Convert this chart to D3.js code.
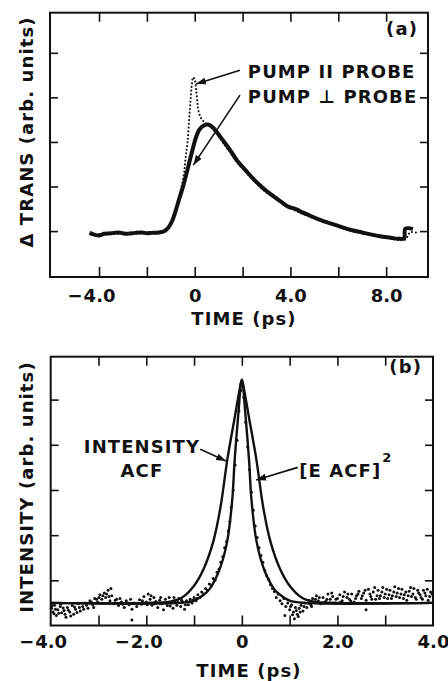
<!DOCTYPE html>
<html>
<head>
<meta charset="utf-8">
<script src="https://cdn.jsdelivr.net/npm/d3@7"></script>
<style>
  body { margin: 0; background: #fff; }
  svg { display: block; }
  text { font-family: "DejaVu Sans", sans-serif; font-weight: bold; font-size: 18px; fill: #111; }
  text.lbl { letter-spacing: 1.1px; }
</style>
</head>
<body>
<div id="chart"></div>
<script>
// ---- panel (a): pump-probe transmission vs time (ps) ----
const aTickMarks = [-4, -2, 0, 2, 4, 6, 8]
const aTickLabels = [-4, 0, 4, 8]
const aYTicks = [0, 1, 2, 3, 4]

// pump perpendicular to probe (thick solid trace)
const perpProbe = [
  [-4.4, -0.04], [-4.2, -0.08], [-4.0, -0.1], [-3.8, -0.06], [-3.5, -0.05], [-3.2, -0.03],
  [-3.0, -0.05], [-2.8, -0.06], [-2.5, -0.04], [-2.2, -0.03], [-2.0, -0.05], [-1.8, -0.04],
  [-1.5, -0.03], [-1.3, -0.01], [-1.1, 0.08], [-0.95, 0.22], [-0.8, 0.45], [-0.65, 0.72],
  [-0.5, 0.98], [-0.35, 1.28], [-0.2, 1.6], [-0.08, 1.85], [0.05, 2.1], [0.2, 2.28],
  [0.38, 2.37], [0.56, 2.39], [0.75, 2.33], [0.95, 2.2], [1.2, 2.02], [1.5, 1.8],
  [1.8, 1.56], [2.1, 1.38], [2.4, 1.2], [2.7, 1.04], [3.0, 0.9], [3.3, 0.78], [3.6, 0.66],
  [3.9, 0.55], [4.2, 0.5], [4.5, 0.42], [4.8, 0.35], [5.1, 0.28], [5.4, 0.22], [5.8, 0.15],
  [6.2, 0.08], [6.5, 0.03], [7.0, -0.03], [7.4, -0.08], [7.8, -0.12], [8.2, -0.15],
  [8.5, -0.17], [8.75, -0.16], [8.8, 0.05], [9.12, 0.05]
]

// pump parallel to probe (dotted trace)
const paraProbe = [
  [-4.3, -0.06], [-3.6, -0.07], [-3.0, -0.06], [-2.4, -0.05], [-1.8, -0.05], [-1.3, -0.02],
  [-1.0, 0.15], [-0.85, 0.4], [-0.7, 0.7], [-0.55, 1.0], [-0.45, 1.3], [-0.38, 1.65],
  [-0.3, 2.0], [-0.24, 2.45], [-0.18, 2.9], [-0.12, 3.3], [-0.07, 3.45], [0.0, 3.4],
  [0.05, 3.2], [0.1, 2.95], [0.15, 2.72], [0.25, 2.55], [0.4, 2.44], [0.6, 2.36],
  [0.8, 2.27], [1.0, 2.12], [1.4, 1.82], [1.8, 1.52], [2.2, 1.28], [2.6, 1.06], [3.0, 0.86],
  [3.4, 0.72], [3.8, 0.57], [4.2, 0.46], [4.6, 0.37], [5.0, 0.28], [5.5, 0.19], [6.0, 0.1],
  [6.5, 0.01], [7.0, -0.05], [7.5, -0.1], [8.0, -0.15], [8.5, -0.2], [8.8, -0.19],
  [9.0, -0.03], [9.25, -0.03]
]

// ---- panel (b): autocorrelation traces ----
const bTickMarks = [-3, -2, -1, 0, 1, 2, 3]
const bTickLabels = [-4, -2, 0, 2, 4]
const bYTicks = [1, 2, 3, 4, 5]

const intensityACF = [
  [-4.0, 0.5], [-2.0, 0.5], [-1.5, 0.53], [-1.25, 0.62], [-1.0, 0.88], [-0.8, 1.25],
  [-0.6, 1.85], [-0.45, 2.6], [-0.3, 3.7], [-0.15, 4.6], [-0.05, 5.2], [0.0, 5.44],
  [0.05, 5.2], [0.15, 4.6], [0.3, 3.7], [0.45, 2.6], [0.6, 1.85], [0.8, 1.25],
  [1.0, 0.88], [1.25, 0.62], [1.5, 0.53], [2.0, 0.5], [4.0, 0.5]
]

const fieldACFsq = [
  [-4.0, 0.5], [-1.3, 0.5], [-1.0, 0.55], [-0.8, 0.68], [-0.68, 0.8], [-0.5, 1.15], [-0.4, 1.45],
  [-0.3, 1.9], [-0.2, 2.8], [-0.15, 3.67], [-0.08, 4.6], [0.0, 5.44], [0.08, 4.6],
  [0.15, 3.67], [0.2, 2.8], [0.3, 1.9], [0.4, 1.45], [0.5, 1.15], [0.68, 0.8],
  [0.8, 0.68], [1.0, 0.55], [1.3, 0.5], [4.0, 0.5]
]

// measured points (b)
const measuredB = [
  [-3.98, 0.38], [-3.95, 0.30], [-3.92, 0.45], [-3.88, 0.22], [-3.85, 0.35], [-3.8, 0.42],
  [-3.77, 0.28], [-3.72, 0.33], [-3.68, 0.18], [-3.65, 0.40], [-3.6, 0.30], [-3.55, 0.44],
  [-3.52, 0.25], [-3.48, 0.36], [-3.42, 0.48], [-3.38, 0.32], [-3.33, 0.42], [-3.28, 0.50],
  [-3.22, 0.38], [-3.18, 0.55], [-3.12, 0.46], [-3.08, 0.60], [-3.02, 0.52], [-2.97, 0.68],
  [-2.93, 0.58], [-2.88, 0.72], [-2.85, 0.62], [-2.8, 0.78], [-2.76, 0.55], [-2.72, 0.66],
  [-2.68, 0.48], [-2.62, 0.58], [-2.58, 0.44], [-2.52, 0.52], [-2.46, 0.40], [-2.42, 0.55],
  [-2.36, 0.46], [-2.3, 0.36], [-2.3, 0.12], [-2.25, 0.50], [-2.2, 0.42], [-2.14, 0.57],
  [-2.1, 0.47], [-2.05, 0.64], [-2.0, 0.52], [-1.96, 0.70], [-1.92, 0.58], [-1.88, 0.45],
  [-1.84, 0.62], [-1.8, 0.53], [-1.76, 0.40], [-1.72, 0.56], [-1.68, 0.48], [-1.64, 0.35],
  [-1.6, 0.58], [-1.56, 0.44], [-1.52, 0.62], [-1.48, 0.50], [-1.44, 0.38], [-1.4, 0.55],
  [-1.36, 0.45], [-1.32, 0.60], [-1.28, 0.42], [-1.24, 0.52], [-1.2, 0.36], [-1.16, 0.55],
  [-1.12, 0.46], [-1.08, 0.58], [-1.04, 0.50], [-1.0, 0.62], [-0.96, 0.55], [-0.92, 0.68],
  [-0.88, 0.62], [-0.84, 0.74], [-0.8, 0.70], [-0.76, 0.82], [-0.72, 0.78], [-0.68, 0.92],
  [-0.64, 0.88], [-0.6, 1.04], [-0.56, 1.00], [-0.52, 1.18], [-0.48, 1.25], [-0.44, 1.40],
  [-0.4, 1.52], [-0.36, 1.72], [-0.32, 1.86], [-0.28, 2.10], [-0.25, 2.30], [-0.22, 2.62],
  [-0.18, 3.00], [-0.14, 3.55], [-0.1, 4.10], [-0.06, 4.75], [-0.02, 5.20], [0.04, 5.05],
  [0.08, 4.50], [0.12, 3.95], [0.16, 3.45], [0.2, 2.95], [0.24, 2.55], [0.28, 2.20],
  [0.32, 1.95], [0.36, 1.72], [0.4, 1.55], [0.44, 1.40], [0.48, 1.22], [0.52, 1.10],
  [0.56, 1.02], [0.6, 0.90], [0.64, 0.82], [0.68, 0.75], [0.72, 0.62], [0.76, 0.70],
  [0.8, 0.55], [0.84, 0.48], [0.88, 0.60], [0.9, 0.22], [0.92, 0.42], [0.96, 0.50],
  [1.0, 0.35], [1.04, 0.46], [1.08, 0.30], [1.1, 0.15], [1.12, 0.40], [1.16, 0.25],
  [1.2, 0.38], [1.24, 0.45], [1.28, 0.32], [1.32, 0.50], [1.36, 0.40], [1.4, 0.56],
  [1.44, 0.46], [1.48, 0.60], [1.52, 0.52], [1.56, 0.66], [1.6, 0.55], [1.65, 0.48],
  [1.7, 0.62], [1.75, 0.53], [1.8, 0.70], [1.85, 0.58], [1.9, 0.64], [1.95, 0.50],
  [2.0, 0.60], [2.05, 0.68], [2.1, 0.55], [2.15, 0.74], [2.2, 0.62], [2.25, 0.58],
  [2.3, 0.70], [2.35, 0.52], [2.4, 0.66], [2.45, 0.76], [2.5, 0.60], [2.55, 0.72],
  [2.6, 0.56], [2.6, 0.35], [2.65, 0.80], [2.7, 0.64], [2.75, 0.74], [2.8, 0.58],
  [2.85, 0.78], [2.9, 0.66], [2.95, 0.84], [3.0, 0.70], [3.05, 0.60], [3.1, 0.78],
  [3.15, 0.66], [3.2, 0.86], [3.25, 0.72], [3.3, 0.62], [3.35, 0.80], [3.4, 0.68],
  [3.45, 0.56], [3.5, 0.76], [3.55, 0.64], [3.6, 0.82], [3.65, 0.58], [3.7, 0.72],
  [3.75, 0.62], [3.8, 0.78], [3.85, 0.66], [3.9, 0.56], [3.95, 0.74]
]

// second sweep of measured points (b), fills the noisy baseline
const measuredB2 = [
  [-3.97, 0.44], [-3.93, 0.26], [-3.9, 0.36], [-3.83, 0.27], [-3.79, 0.47], [-3.74, 0.39],
  [-3.7, 0.25], [-3.63, 0.34], [-3.58, 0.21], [-3.5, 0.41], [-3.45, 0.29], [-3.4, 0.4],
  [-3.31, 0.36], [-3.25, 0.45], [-3.15, 0.52], [-3.1, 0.4], [-3.04, 0.58], [-2.99, 0.62],
  [-2.91, 0.66], [-2.83, 0.7], [-2.78, 0.64], [-2.74, 0.82], [-2.65, 0.56], [-2.55, 0.6],
  [-2.49, 0.47], [-2.39, 0.5], [-2.33, 0.58], [-2.18, 0.49], [-2.08, 0.55], [-1.98, 0.46],
  [-1.9, 0.66], [-1.82, 0.48], [-1.7, 0.62], [-1.58, 0.5], [-1.5, 0.43], [-1.42, 0.62],
  [-1.34, 0.52], [-1.26, 0.56], [-1.18, 0.46], [-1.1, 0.52], [-1.02, 0.56], [-0.94, 0.6],
  [1.02, 0.42], [1.06, 0.24], [1.14, 0.33], [1.18, 0.2], [1.22, 0.3], [1.3, 0.42],
  [1.38, 0.5], [1.46, 0.42], [1.54, 0.58], [1.62, 0.62], [1.72, 0.5], [1.78, 0.58],
  [1.88, 0.72], [1.97, 0.58], [2.07, 0.52], [2.12, 0.64], [2.22, 0.7], [2.28, 0.54],
  [2.38, 0.6], [2.43, 0.7], [2.52, 0.66], [2.58, 0.78], [2.68, 0.7], [2.72, 0.58],
  [2.78, 0.84], [2.83, 0.66], [2.88, 0.6], [2.93, 0.74], [2.98, 0.62], [3.03, 0.8],
  [3.08, 0.68], [3.13, 0.6], [3.18, 0.74], [3.23, 0.64], [3.28, 0.82], [3.33, 0.7],
  [3.38, 0.6], [3.43, 0.74], [3.48, 0.66], [3.53, 0.84], [3.58, 0.7], [3.63, 0.62],
  [3.68, 0.78], [3.73, 0.68], [3.78, 0.58], [3.83, 0.72], [3.88, 0.8], [3.93, 0.64],
  [3.98, 0.7]
]

const W = 448, H = 681
const ink = '#111'

const svg = d3.select('#chart').append('svg')
  .attr('width', W).attr('height', H)

svg.append('defs').append('marker')
  .attr('id', 'arrow')
  .attr('markerUnits', 'userSpaceOnUse')
  .attr('markerWidth', 11).attr('markerHeight', 8)
  .attr('refX', 10).attr('refY', 3.5)
  .attr('orient', 'auto')
  .append('path').attr('d', 'M0,0L10,3.5L0,7Z').attr('fill', ink)

const fmt = d => d === 0 ? '0' : d3.format('.1f')(Math.abs(d))

// frame, inward ticks on all sides, labels at the bottom
function drawFrame(g, x, y, { marks, labels, yTicks, labelPad }) {
  const [x0, x1] = x.range()
  const [y0, y1] = y.range()

  g.append('g').attr('transform', `translate(0,${y0})`)
    .call(d3.axisBottom(x).tickValues(marks).tickSize(-10).tickFormat(''))
  g.append('g').attr('transform', `translate(0,${y1})`)
    .call(d3.axisTop(x).tickValues(marks).tickSize(-9).tickFormat(''))
  g.append('g').attr('transform', `translate(${x0},0)`)
    .call(d3.axisLeft(y).tickValues(yTicks).tickSize(-8).tickFormat(''))
  g.append('g').attr('transform', `translate(${x1},0)`)
    .call(d3.axisRight(y).tickValues(yTicks).tickSize(-8).tickFormat(''))

  const lab = g.append('g').attr('transform', `translate(0,${y0})`)
    .call(d3.axisBottom(x).tickValues(labels).tickSize(0).tickPadding(labelPad).tickFormat(fmt))

  lab.selectAll('.tick text').each(function (d) {
    if (d < 0) {
      const w = this.getComputedTextLength()
      const t = d3.select(this)
      d3.select(this.parentNode).append('text')
        .attr('y', t.attr('y')).attr('dy', t.attr('dy'))
        .attr('x', -w / 2 - 1)
        .attr('text-anchor', 'end')
        .text('\u2212')
    }
  })

  g.selectAll('.domain').remove()
  g.selectAll('.tick line').attr('stroke', ink).attr('stroke-width', 1.6)

  g.append('rect')
    .attr('x', x0).attr('y', y1)
    .attr('width', x1 - x0).attr('height', y0 - y1)
    .attr('fill', 'none').attr('stroke', ink).attr('stroke-width', 2)
}

function arrow(g, x, y, from, to) {
  g.append('line')
    .attr('x1', x(from[0])).attr('y1', y(from[1]))
    .attr('x2', x(to[0])).attr('y2', y(to[1]))
    .attr('stroke', ink).attr('stroke-width', 1.6)
    .attr('marker-end', 'url(#arrow)')
}

function label(g, px, py, str, anchor = 'start') {
  return g.append('text').attr('class', 'lbl')
    .attr('x', px).attr('y', py).attr('text-anchor', anchor).text(str)
}

// ---------- panel (a) ----------
const xa = d3.scaleLinear().domain([-6.05, 9.75]).range([50, 428])
const ya = d3.scaleLinear().domain([-1.03, 4.9]).range([277, 12.7])
const ga = svg.append('g')

drawFrame(ga, xa, ya, { marks: aTickMarks, labels: aTickLabels, yTicks: aYTicks, labelPad: 12 })

const lineA = d3.line().x(d => xa(d[0])).y(d => ya(d[1])).curve(d3.curveCatmullRom)

ga.append('path').datum(paraProbe)
  .attr('d', lineA)
  .attr('fill', 'none').attr('stroke', ink)
  .attr('stroke-width', 2).attr('stroke-linecap', 'round')
  .attr('stroke-dasharray', '0.1 3.6')

ga.append('path').datum(perpProbe)
  .attr('d', lineA)
  .attr('fill', 'none').attr('stroke', ink)
  .attr('stroke-width', 4).attr('stroke-linejoin', 'round')

label(ga, xa(2.22), ya(3.44), 'PUMP II PROBE')
label(ga, xa(2.22), ya(2.87), 'PUMP \u22A5 PROBE')
arrow(ga, xa, ya, [1.89, 3.61], [0.05, 3.3])
arrow(ga, xa, ya, [1.89, 3.05], [-0.06, 1.48])

label(ga, 418, 35, '(a)', 'end')
ga.append('text').attr('class', 'lbl').attr('text-anchor', 'middle')
  .attr('transform', 'translate(33,132) rotate(-90)')
  .text('\u0394 TRANS (arb. units)')
label(ga, 244, 325, 'TIME (ps)', 'middle')

// ---------- panel (b) ----------
const xb = d3.scaleLinear().domain([-4, 4]).range([50.7, 433])
const yb = d3.scaleLinear().domain([0, 5.95]).range([625.5, 356.7])
const gb = svg.append('g')

drawFrame(gb, xb, yb, { marks: bTickMarks, labels: bTickLabels, yTicks: bYTicks, labelPad: 10 })

const lineB = d3.line().x(d => xb(d[0])).y(d => yb(d[1])).curve(d3.curveCatmullRom)

gb.selectAll('circle.pt').data(measuredB.concat(measuredB2)).join('circle')
  .attr('class', 'pt')
  .attr('cx', d => xb(d[0])).attr('cy', d => yb(d[1]))
  .attr('r', 1.5).attr('fill', ink)

gb.append('path').datum(intensityACF)
  .attr('d', lineB)
  .attr('fill', 'none').attr('stroke', ink).attr('stroke-width', 2.4)

gb.append('path').datum(fieldACFsq)
  .attr('d', lineB)
  .attr('fill', 'none').attr('stroke', ink).attr('stroke-width', 2.4)

label(gb, xb(-2.09), yb(3.82), 'INTENSITY', 'middle')
label(gb, xb(-2.09), yb(3.29), 'ACF', 'middle')
arrow(gb, xb, yb, [-0.87, 3.9], [-0.33, 3.64])

const eacf = label(gb, xb(1.2), yb(3.28), '[E ACF]')
eacf.append('tspan').attr('dy', -15).attr('dx', 1).style('font-size', '13px').text('2')
arrow(gb, xb, yb, [1.17, 3.5], [0.3, 3.22])

label(gb, 422, 373, '(b)', 'end')
gb.append('text').attr('class', 'lbl').attr('text-anchor', 'middle')
  .attr('transform', 'translate(33,487) rotate(-90)')
  .text('INTENSITY (arb. units)')
label(gb, 249, 677, 'TIME (ps)', 'middle')
</script>
</body>
</html>
